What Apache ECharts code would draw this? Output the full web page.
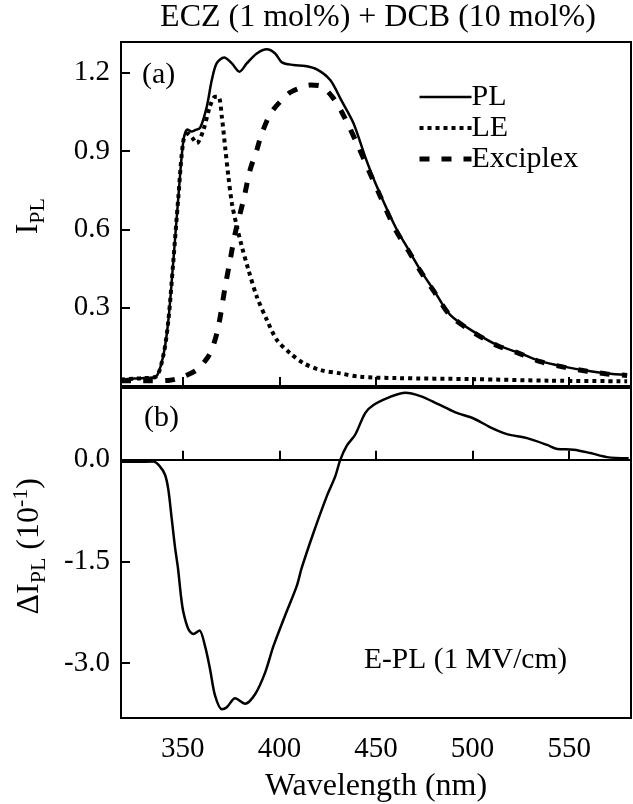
<!DOCTYPE html>
<html>
<head>
    <meta charset="utf-8" />
    <title>ECZ + DCB PL / E-PL</title>
    <script src="https://cdn.jsdelivr.net/npm/echarts@6.0.0/dist/echarts.min.js"></script>
    <style>
        html, body { margin: 0; padding: 0; background: #fff; }
        #main { width: 633px; height: 804px; }
    </style>
</head>
<body>
    <div id="main"></div>
    <script type="text/javascript">
        // panel (a): PL spectrum and its two components
        var plWavelength = [318, 325, 330, 336, 340, 342.5, 345, 347.7, 350.3, 352.4, 354.5, 356.3, 359, 362.4, 365, 367.5, 371.4, 375.4, 379.3, 383.1, 388.3, 393.5, 397.8, 401.3, 407.3, 413.3, 419.4, 426.3, 432, 438.4, 444.4, 450.5, 460, 466.9, 473, 479.8, 488.4, 500.5, 512.6, 524.7, 535, 547.2, 559.3, 569.6, 580];
        var plIntensity = [0.025, 0.028, 0.03, 0.035, 0.12, 0.25, 0.47, 0.725, 0.94, 0.983, 0.975, 0.98, 0.99, 1.07, 1.172, 1.236, 1.259, 1.236, 1.204, 1.236, 1.274, 1.29, 1.274, 1.24, 1.23, 1.226, 1.213, 1.172, 1.095, 1.006, 0.878, 0.763, 0.61, 0.521, 0.444, 0.368, 0.272, 0.208, 0.157, 0.125, 0.095, 0.074, 0.058, 0.048, 0.042];

        var leWavelength = [318, 325, 330, 336, 340, 342.5, 345, 347.7, 350.3, 352.6, 355, 357.2, 360.6, 364, 366.7, 368.5, 370.2, 371.9, 373.6, 375.4, 378, 380.6, 384, 388.3, 393.5, 398.7, 405.6, 412.5, 421.1, 431.5, 441.8, 460, 500, 540, 580];
        var leIntensity = [0.025, 0.028, 0.03, 0.035, 0.12, 0.25, 0.47, 0.725, 0.94, 0.967, 0.95, 0.93, 0.98, 1.07, 1.108, 1.108, 1.031, 0.916, 0.802, 0.70, 0.61, 0.533, 0.444, 0.342, 0.253, 0.176, 0.125, 0.087, 0.061, 0.048, 0.035, 0.03, 0.026, 0.02, 0.018];

        var exWavelength = [318, 330, 343.4, 350, 357.2, 362, 365, 368.4, 371.9, 374.5, 377.1, 381.4, 384.8, 388.3, 390.9, 396, 404.7, 410, 415.9, 421.1, 428, 434, 440.9, 446, 452, 460, 467, 473, 480, 488.4, 500.5, 512.6, 524.7, 535, 547.2, 559.3, 569.6, 580];
        var exIntensity = [0.02, 0.02, 0.022, 0.035, 0.061, 0.1, 0.138, 0.227, 0.38, 0.482, 0.585, 0.712, 0.827, 0.904, 0.968, 1.05, 1.12, 1.14, 1.153, 1.15, 1.102, 1.025, 0.916, 0.83, 0.73, 0.60, 0.515, 0.44, 0.362, 0.27, 0.205, 0.155, 0.123, 0.093, 0.072, 0.056, 0.046, 0.04];

        // panel (b): field induced change, units of 10^-1
        var dWavelength = [318, 325, 334.8, 338.2, 340.8, 342.5, 344.3, 346, 347.5, 349, 350.3, 352.9, 355.5, 358.6, 361.5, 364.1, 366.7, 370.2, 372.8, 377.1, 382.2, 387.4, 392.6, 396.9, 402.9, 409, 411.5, 417.6, 424.5, 428.9, 431.5, 434.9, 439.2, 444.4, 448.7, 457.4, 465.2, 473, 481.6, 491.1, 500.5, 509.2, 517.8, 528.2, 538.6, 543.8, 552.4, 561, 569.6, 580.8];
        var dValue = [-0.03, -0.03, -0.025, -0.1, -0.22, -0.44, -0.88, -1.3, -1.6, -2.0, -2.25, -2.5, -2.57, -2.52, -2.75, -3.09, -3.48, -3.68, -3.65, -3.52, -3.6, -3.46, -3.14, -2.75, -2.3, -1.86, -1.6, -1.08, -0.54, -0.245, 0, 0.21, 0.37, 0.69, 0.81, 0.93, 0.99, 0.94, 0.83, 0.7, 0.61, 0.48, 0.38, 0.32, 0.22, 0.16, 0.15, 0.1, 0.04, 0.025];

        var xTicks = [350, 400, 450, 500, 550];
        var topTicks = [0.3, 0.6, 0.9, 1.2];
        var bottomTicks = [-3.0, -1.5, 0.0];

        var FONT = "'Liberation Serif', 'Times New Roman', serif";

        var exLine = { color: '#000', width: 5, type: [10, 12], cap: 'butt' };
        var leLine = { color: '#000', width: 4, type: [4, 4], cap: 'butt' };
        var plLine = { color: '#000', width: 2.5 };

        function pairs(xs, ys) {
            var out = [];
            for (var i = 0; i < xs.length; i++) {
                out.push([xs[i], ys[i]]);
            }
            return out;
        }

        function xAxisFor(gridIndex, withLabels) {
            return {
                type: 'value',
                gridIndex: gridIndex,
                min: 318,
                max: 582,
                splitLine: { show: false },
                axisLine: { show: true, lineStyle: { color: '#000', width: 2 } },
                axisTick: { show: true, inside: true, length: 9, customValues: xTicks, lineStyle: { color: '#000', width: 2 } },
                axisLabel: {
                    show: withLabels,
                    customValues: xTicks,
                    margin: 17,
                    color: '#000',
                    fontFamily: FONT,
                    fontSize: 29
                },
                name: withLabels ? 'Wavelength (nm)' : '',
                nameLocation: 'middle',
                nameGap: 53,
                nameTextStyle: { color: '#000', fontFamily: FONT, fontSize: 32 }
            };
        }

        function yAxisFor(gridIndex, min, max, ticks) {
            return {
                type: 'value',
                gridIndex: gridIndex,
                min: min,
                max: max,
                splitLine: { show: false },
                axisLine: { show: true, lineStyle: { color: '#000', width: 2 } },
                axisTick: { show: true, inside: true, length: 9, customValues: ticks, lineStyle: { color: '#000', width: 2 } },
                axisLabel: {
                    customValues: ticks,
                    margin: 11,
                    color: '#000',
                    fontFamily: FONT,
                    fontSize: 29,
                    formatter: function (v) { return v.toFixed(1); }
                }
            };
        }

        var chart = echarts.init(document.getElementById('main'));
        chart.setOption({
            animation: false,
            backgroundColor: '#fff',
            legend: {
                orient: 'vertical',
                left: 412,
                top: 77,
                itemWidth: 52,
                itemHeight: 14,
                itemGap: 1,
                itemStyle: { color: 'rgba(0,0,0,0)', borderWidth: 0 },
                data: [
                    { name: 'PL', lineStyle: plLine },
                    { name: 'LE', lineStyle: leLine },
                    { name: 'Exciplex', lineStyle: exLine }
                ],
                textStyle: { color: '#000', fontFamily: FONT, fontSize: 30, padding: [0, 0, 0, -5] }
            },
            grid: [
                { left: 121, right: 2, top: 42, height: 346, show: true, borderColor: '#000', borderWidth: 2, backgroundColor: 'transparent' },
                { left: 121, right: 2, top: 388, height: 331, show: true, borderColor: '#000', borderWidth: 2, backgroundColor: 'transparent' }
            ],
            xAxis: [xAxisFor(0, false), xAxisFor(1, true)],
            yAxis: [
                yAxisFor(0, -0.008, 1.318, topTicks),
                yAxisFor(1, -3.81, 1.06, bottomTicks)
            ],
            graphic: [
                {
                    type: 'text', x: 378, y: 2,
                    style: {
                        text: 'ECZ (1 mol%) + DCB (10 mol%)', align: 'center', verticalAlign: 'top',
                        fontFamily: FONT, fontSize: 32, fill: '#000'
                    }
                },
                {
                    type: 'text', left: 13, top: 198, rotation: Math.PI / 2,
                    style: {
                        text: '{m|I}{s|PL}',
                        rich: {
                            m: { fontFamily: FONT, fontSize: 32, lineHeight: 40, fill: '#000' },
                            s: { fontFamily: FONT, fontSize: 22, lineHeight: 22, verticalAlign: 'bottom', fill: '#000' }
                        }
                    }
                },
                {
                    type: 'text', left: 10, top: 478, rotation: Math.PI / 2,
                    style: {
                        text: '{m|ΔI}{s|PL}{m| (10}{p|-1}{m|)}',
                        rich: {
                            m: { fontFamily: FONT, fontSize: 32, lineHeight: 40, fill: '#000' },
                            s: { fontFamily: FONT, fontSize: 22, lineHeight: 22, verticalAlign: 'bottom', fill: '#000' },
                            p: { fontFamily: FONT, fontSize: 22, lineHeight: 22, verticalAlign: 'top', fill: '#000' }
                        }
                    }
                },
                {
                    type: 'text', left: 142, top: 60,
                    style: { text: '(a)', fontFamily: FONT, fontSize: 30, fill: '#000' }
                },
                {
                    type: 'text', left: 144, top: 403,
                    style: { text: '(b)', fontFamily: FONT, fontSize: 30, fill: '#000' }
                },
                {
                    type: 'text', left: 364, top: 645,
                    style: { text: 'E-PL (1 MV/cm)', fontFamily: FONT, fontSize: 29.5, fill: '#000' }
                }
            ],
            series: [
                {
                    name: 'Exciplex', type: 'line', xAxisIndex: 0, yAxisIndex: 0,
                    data: pairs(exWavelength, exIntensity),
                    symbol: 'none', smooth: 0.3, z: 2,
                    lineStyle: exLine
                },
                {
                    name: 'LE', type: 'line', xAxisIndex: 0, yAxisIndex: 0,
                    data: pairs(leWavelength, leIntensity),
                    symbol: 'none', smooth: 0.3, z: 3,
                    lineStyle: leLine
                },
                {
                    name: 'PL', type: 'line', xAxisIndex: 0, yAxisIndex: 0,
                    data: pairs(plWavelength, plIntensity),
                    symbol: 'none', smooth: 0.3, z: 4,
                    lineStyle: plLine
                },
                {
                    name: 'dPL', type: 'line', xAxisIndex: 1, yAxisIndex: 1,
                    data: pairs(dWavelength, dValue),
                    symbol: 'none', smooth: 0.3,
                    lineStyle: plLine,
                    markLine: {
                        silent: true,
                        symbol: 'none',
                        label: { show: false },
                        lineStyle: { color: '#000', width: 2, type: 'solid' },
                        data: [{ yAxis: 0 }]
                    }
                }
            ]
        });
    </script>
</body>
</html>
